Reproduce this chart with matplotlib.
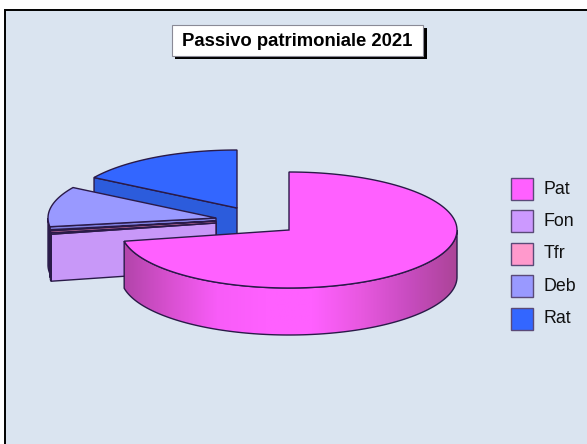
import numpy as np
import matplotlib.pyplot as plt
from matplotlib.patches import Polygon, Rectangle
from matplotlib.colors import LinearSegmentedColormap

# Quote del passivo (%)
labels = ['Pat', 'Fon', 'Tfr', 'Deb', 'Rat']
values = [71.9, 0.4, 0.3, 11.2, 16.2]
colors = ['#FF60FF', '#CC99FF', '#FF99CC', '#9999FF', '#3366FF']
wall_colors = ['#FF60FF', '#C898F8', '#E080B0', '#8080E0', '#2C5CDC']
title = 'Passivo patrimoniale 2021'

# Geometria della torta (pixel)
rx, ry, depth = 168, 58, 47
centers = [(289, 230), (216, 223), (216, 221), (216, 218), (237, 208)]
line = '#2A1A48'
panel = '#DAE4F0'

plt.rcParams['font.family'] = ['Liberation Sans', 'DejaVu Sans']
fig = plt.figure(figsize=(5.87, 4.44), dpi=100)
ax = fig.add_axes([0, 0, 1, 1])

# Sfondo
ax.add_patch(Rectangle((5, 10), 590, 440, fc=panel, ec='black', lw=1.4, zorder=0))


def arc(c, a, b, dz=0, n=120):
    t = np.radians(np.linspace(a, b, n))
    return np.column_stack([c[0] + rx * np.cos(t), c[1] - ry * np.sin(t) + dz])


# Angoli: la torta gira in senso orario partendo dall'alto
sweeps = np.array(values) / sum(values) * 360
hi = 90 - np.concatenate([[0], np.cumsum(sweeps)[:-1]])
lo = hi - sweeps
hi = np.where(lo < -90, hi + 360, hi)
lo = np.where(lo < -90, lo + 360, lo)
hi[0], lo[0] = 90, 90 - sweeps[0]

z = 2
for i in [4, 3, 2, 1, 0]:
    c = centers[i]
    if i > 0:
        # parete di taglio verso chi guarda
        e = arc(c, hi[i], hi[i], n=1)[0]
        cut = [c, e, (e[0], e[1] + depth), (c[0], c[1] + depth)]
        ax.add_patch(Polygon(cut, fc=wall_colors[i], ec=line, lw=1, zorder=z))
        # parete esterna, solo la parte oltre i 180 gradi
        if hi[i] > 180:
            top = arc(c, max(lo[i], 180), hi[i])
            bot = arc(c, hi[i], max(lo[i], 180), depth)
            ax.add_patch(Polygon(np.vstack([top, bot]), fc='#2E2458', ec=line, lw=1, zorder=z + 1))
    else:
        # parete frontale con sfumatura
        top = arc(c, lo[0], 0)
        bot = arc(c, 0, lo[0], depth)
        outline = np.vstack([top, bot])
        cmap = LinearSegmentedColormap.from_list('w', ['#B044A8', '#D850D0', '#F85CF8', '#FF60FF',
                                                       '#FF60FF', '#E858E0', '#C84CC0', '#AC4498'])
        im = ax.imshow(np.linspace(0, 1, 256)[None, :], cmap=cmap, aspect='auto',
                       extent=(c[0] - rx, c[0] + rx, c[1] + ry + depth, c[1] - 20), zorder=z)
        im.set_clip_path(Polygon(outline, transform=ax.transData))
        ax.add_patch(Polygon(outline, fc='none', ec=line, lw=1, zorder=z + 1))
    pts = np.vstack([[c], arc(c, hi[i], lo[i])])
    ax.add_patch(Polygon(pts, fc=colors[i], ec=line, lw=1, zorder=z + 2))
    z += 3

# Titolo
ax.add_patch(Rectangle((175, 28), 252, 31, fc='black', ec='none', zorder=40))
ax.add_patch(Rectangle((172, 25), 251, 31, fc='white', ec='#8A8A96', lw=0.8, zorder=41))
ax.text(297, 41, title, fontsize=13.3, fontweight='bold', ha='center', va='center', color='black', zorder=42)

# Legenda
for i, lab in enumerate(labels):
    y = 178 + i * 32.4
    ax.add_patch(Rectangle((511, y), 22, 22, fc=colors[i], ec='#5A4A78', lw=1, zorder=40))
    ax.text(543.5, y + 11, lab, fontsize=12.8, ha='left', va='center', color='#101010', zorder=41)

ax.set_xlim(0, 587)
ax.set_ylim(444, 0)
ax.axis('off')
plt.savefig('out.png', dpi=100, facecolor='white')
